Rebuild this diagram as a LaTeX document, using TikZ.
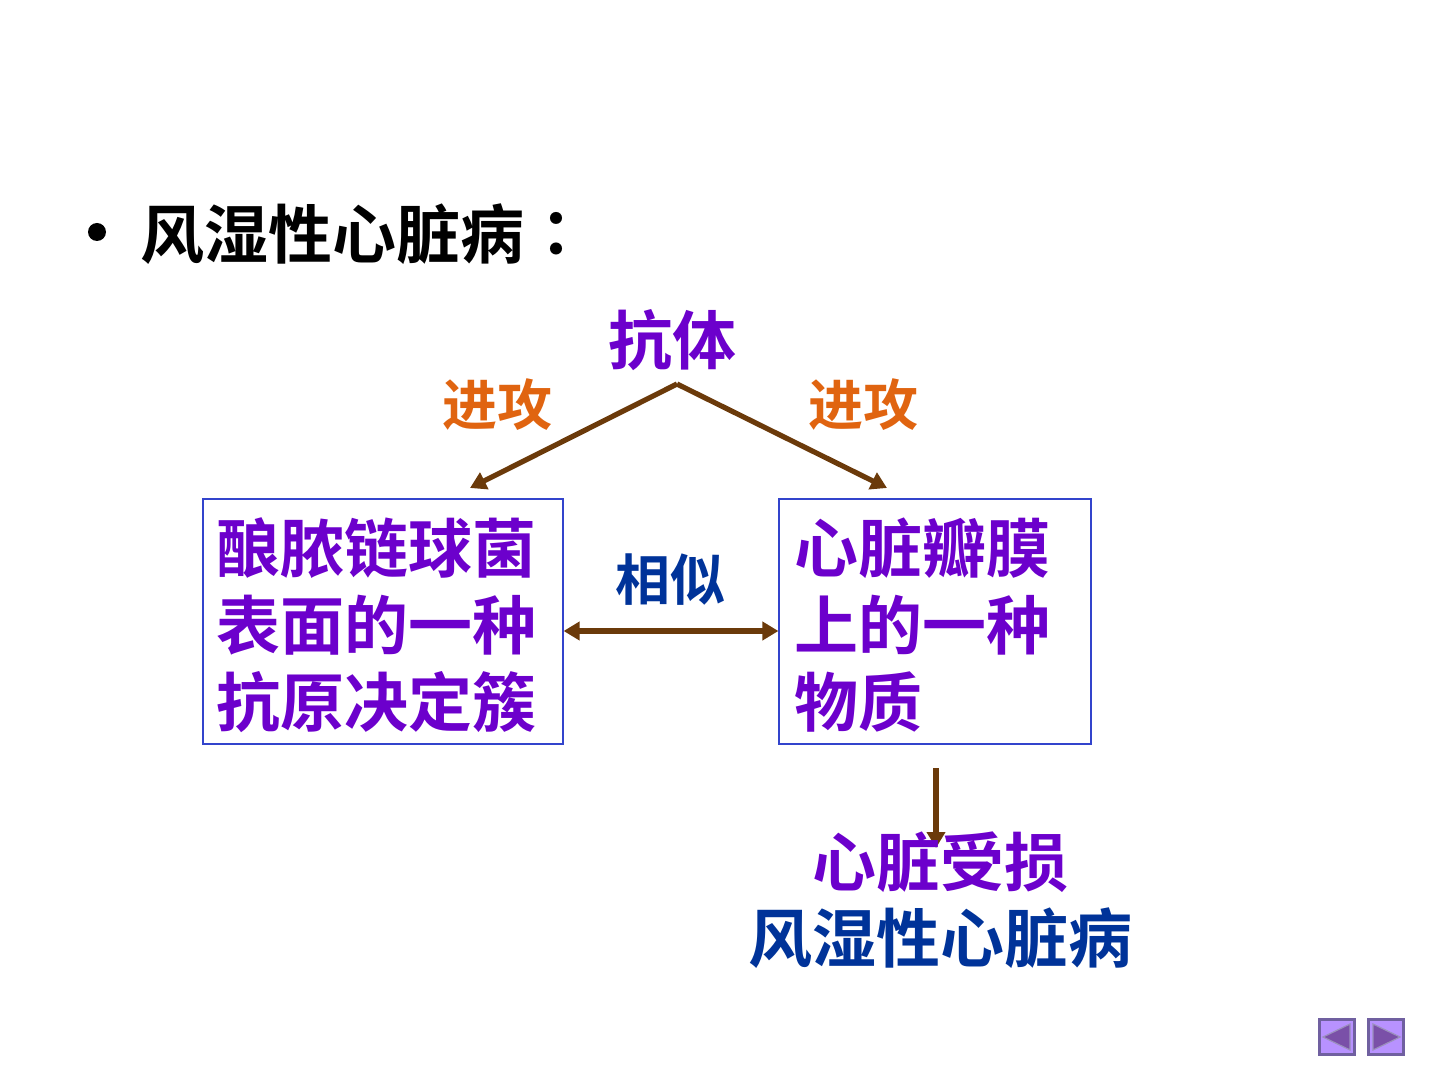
\documentclass[tikz,border=0pt]{standalone}
\usepackage{fontspec}
\newfontfamily\cjk{Noto Sans CJK SC}[BoldFont=* Bold]
\usetikzlibrary{arrows.meta}
\definecolor{purp}{RGB}{108,0,204}
\definecolor{orng}{RGB}{224,100,16}
\definecolor{dblue}{RGB}{0,51,153}
\definecolor{brwn}{RGB}{107,58,10}
\definecolor{boxblue}{RGB}{51,68,204}
\definecolor{navfill}{RGB}{184,146,255}
\definecolor{navedge}{RGB}{112,96,160}
\definecolor{navtri}{RGB}{122,80,168}
\tikzset{
  big/.style={font=\cjk\bfseries\fontsize{32}{38.5}\selectfont, inner sep=0pt},
  mid/.style={font=\cjk\bfseries\fontsize{27.5}{33}\selectfont, inner sep=0pt},
  conn/.style={draw=brwn, line width=2.6pt, -{Triangle[length=8pt,width=9pt]}},
  twoconn/.style={draw=brwn, line width=2.6pt, {Triangle[length=8pt,width=9pt]}-{Triangle[length=8pt,width=9pt]}},
  framebox/.style={draw=boxblue, line width=0.6pt, inner sep=0pt},
  navbtn/.style={draw=navedge, fill=navfill, line width=1.5pt, minimum size=17.5pt, inner sep=0pt},
}
\begin{document}
\begin{tikzpicture}[x=0.5pt,y=-0.5pt]
\useasboundingbox (0,0) rectangle (1440,1080);
% title
\fill[black] (97,232) circle (4.5pt) coordinate (bullet);
\node[big, anchor=west, black] (title) at (140,234) {风湿性心脏病};
\node[big, black] (colon) at (572,234) {：};
% antibody
\node[big, purp] (ab) at (672,340) {抗体};
\coordinate (apex) at (677,384);
\node[mid, orng] (atkL) at (497,405) {进攻};
\node[mid, orng] (atkR) at (863,405) {进攻};
% boxes
\node[framebox, minimum width=180pt, minimum height=122.5pt] (boxL) at (383,621.5) {};
\node[framebox, minimum width=156pt, minimum height=122.5pt] (boxR) at (935,621.5) {};
\node[big, purp, align=left, anchor=west] (txtL) at (216,625) {酿脓链球菌\\表面的一种\\抗原决定簇};
\node[big, purp, align=left, anchor=west] (txtR) at (794,625) {心脏瓣膜\\上的一种\\物质};
\coordinate (tipL) at (470,488);
\coordinate (tipR) at (887,488);
\draw[conn] (apex) -- (tipL);
\draw[conn] (apex) -- (tipR);
% similar
\node[mid, dblue] (sim) at (670,580) {相似};
\draw[twoconn] (boxL.east |- 0,631) -- (boxR.west |- 0,631);
% result
\coordinate (dstart) at (936,768);
\coordinate (dend) at (936,848);
\draw[conn] (dstart) -- (dend);
\node[big, purp] (dmg) at (940,862) {心脏受损};
\node[big, dblue] (rhd) at (940,938) {风湿性心脏病};
% nav buttons
\node[navbtn] (prev) at (1337,1037) {};
\node[navbtn] (next) at (1386,1037) {};
\fill[navtri, draw=navedge!70!white, line width=0.6pt] (1350,1024) -- (1350,1050) -- (1323,1037) -- cycle;
\fill[navtri, draw=navedge!70!white, line width=0.6pt] (1373,1024) -- (1373,1050) -- (1400,1037) -- cycle;
\end{tikzpicture}
\end{document}
